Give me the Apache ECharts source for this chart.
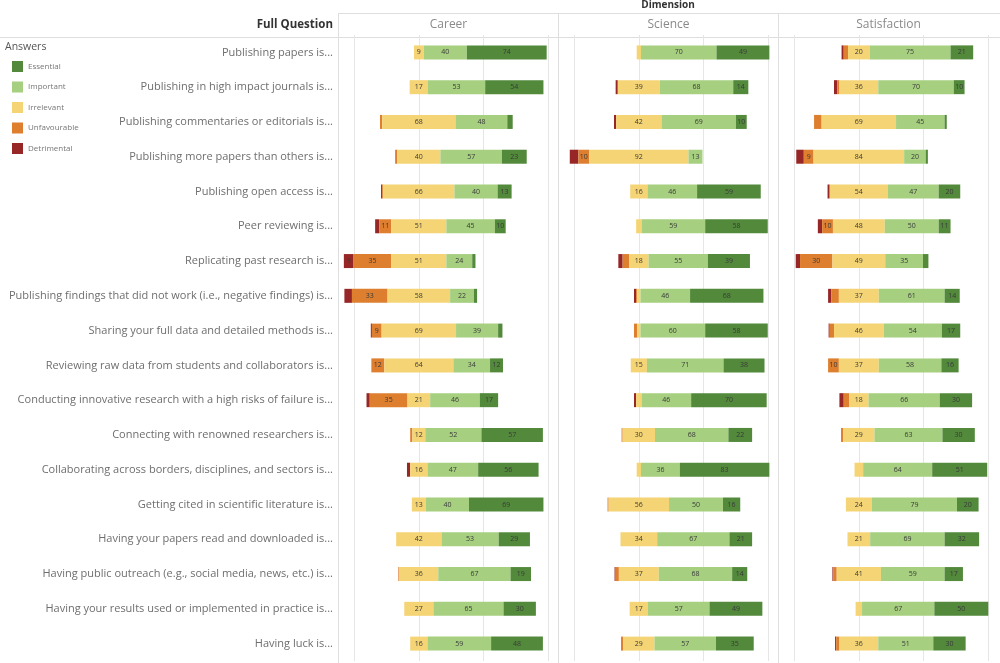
<!DOCTYPE html>
<html><head><meta charset="utf-8">
<script src="https://cdn.jsdelivr.net/npm/echarts@6/dist/echarts.min.js"></script>
<style>html,body{margin:0;padding:0;background:#fff}#c{width:1000px;height:663px}</style>
</head><body><div id="c"></div>
<script>
const questions = [
  'Publishing papers is...',
  'Publishing in high impact journals is...',
  'Publishing commentaries or editorials is...',
  'Publishing more papers than others is...',
  'Publishing open access is...',
  'Peer reviewing is...',
  'Replicating past research is...',
  'Publishing findings that did not work (i.e., negative findings) is...',
  'Sharing your full data and detailed methods is...',
  'Reviewing raw data from students and collaborators is...',
  'Conducting innovative research with a high risks of failure is...',
  'Connecting with renowned researchers is...',
  'Collaborating across borders, disciplines, and sectors is...',
  'Getting cited in scientific literature is...',
  'Having your papers read and downloaded is...',
  'Having public outreach (e.g., social media, news, etc.) is...',
  'Having your results used or implemented in practice is...',
  'Having luck is...'
];
const dimensions = ['Career', 'Science', 'Satisfaction'];
const answers = ['Essential', 'Important', 'Irrelevant', 'Unfavourable', 'Detrimental'];
const gridTicks = [-60, 0, 60, 120];

const careerDetrimental  = [0,0,0,0,1,4,9,7,1,0,3,0,3,0,0,0,0,0];
const careerUnfavourable = [0,0,2,2,1,11,35,33,9,12,35,2,0,0,0,1,0,0];
const careerIrrelevant   = [9,17,68,40,66,51,51,58,69,64,21,12,16,13,42,36,27,16];
const careerImportant    = [40,53,48,57,40,45,24,22,39,34,46,52,47,40,53,67,65,59];
const careerEssential    = [74,54,5,23,13,10,3,3,4,12,17,57,56,69,29,19,30,48];

const scienceDetrimental  = [0,2,2,8,0,0,4,2,0,0,2,0,0,0,0,1,0,0];
const scienceUnfavourable = [0,0,0,10,0,0,6,1,3,0,0,1,0,1,0,3,0,2];
const scienceIrrelevant   = [4,39,42,92,16,5,18,3,3,15,5,30,4,56,34,37,17,29];
const scienceImportant    = [70,68,69,13,46,59,55,46,60,71,46,68,36,50,67,68,57,57];
const scienceEssential    = [49,14,10,0,59,58,39,68,58,38,70,22,83,16,21,14,49,35];

const satisfactionDetrimental  = [2,3,0,7,2,4,4,3,1,0,4,0,0,0,0,1,0,1];
const satisfactionUnfavourable = [4,2,7,9,0,10,30,7,4,10,5,2,0,0,0,3,0,3];
const satisfactionIrrelevant   = [20,36,69,84,54,48,49,37,46,37,18,29,8,24,21,41,6,36];
const satisfactionImportant    = [75,70,45,20,47,50,35,61,54,58,66,63,64,79,69,59,67,51];
const satisfactionEssential    = [21,10,2,2,20,11,5,14,17,16,30,30,51,20,32,17,50,30];

const panels = [
  {det: careerDetrimental, unf: careerUnfavourable, irr: careerIrrelevant, imp: careerImportant, ess: careerEssential},
  {det: scienceDetrimental, unf: scienceUnfavourable, irr: scienceIrrelevant, imp: scienceImportant, ess: scienceEssential},
  {det: satisfactionDetrimental, unf: satisfactionUnfavourable, irr: satisfactionIrrelevant, imp: satisfactionImportant, ess: satisfactionEssential}
];

const colors = {
  Essential: '#52893b',
  Important: '#a6cf7f',
  Irrelevant: '#f4d474',
  Unfavourable: '#dd7f2f',
  Detrimental: '#972727'
};

const FONT = '"Open Sans", sans-serif';
const panelLefts = [339, 559, 779];
const panelWidth = 219;

const grids = [], xAxes = [], yAxes = [], series = [];
panels.forEach((p, gi) => {
  grids.push({left: panelLefts[gi], width: panelWidth, top: 35, height: 626});
  xAxes.push({type: 'value', gridIndex: gi, min: -74, max: 129, show: false, splitLine: {show: false}});
  yAxes.push({
    type: 'category', gridIndex: gi, data: questions, inverse: true,
    axisLine: {show: false}, axisTick: {show: false},
    axisLabel: gi === 0 ? {show: true, color: '#6e6e6e', fontSize: 11, fontFamily: FONT, margin: 6} : {show: false}
  });
  const stackName = 'stack' + gi;
  const base = questions.map((q, i) => -(p.det[i] + p.unf[i] + p.irr[i] / 2));
  series.push({
    name: 'base', type: 'bar', xAxisIndex: gi, yAxisIndex: gi, stack: stackName, stackStrategy: 'all',
    data: base, barWidth: 14, silent: true, itemStyle: {color: 'rgba(0,0,0,0)'},
    markLine: {
      silent: true, symbol: 'none', label: {show: false}, z: 0,
      lineStyle: {color: '#e6e6e6', width: 1, type: 'solid'},
      data: gridTicks.map(v => ({xAxis: v}))
    },
    z: 1
  });
  const segs = [['Detrimental', p.det], ['Unfavourable', p.unf], ['Irrelevant', p.irr], ['Important', p.imp], ['Essential', p.ess]];
  segs.forEach(([name, arr]) => {
    series.push({
      name: name, type: 'bar', xAxisIndex: gi, yAxisIndex: gi, stack: stackName, stackStrategy: 'all',
      data: arr, barWidth: 14, z: 3,
      itemStyle: {color: colors[name]},
      label: {
        show: true, position: 'inside', fontSize: 7, fontFamily: FONT, color: '#3a3a3a',
        formatter: v => (v.value >= 9 ? String(v.value) : '')
      }
    });
  });
});

const lineStyle = {stroke: '#dedede', lineWidth: 1};
const graphic = [
  {type: 'text', style: {x: 668, y: 5, text: 'Dimension', fill: '#333', font: 'bold 10px ' + FONT, textAlign: 'center', textVerticalAlign: 'middle'}},
  {type: 'text', style: {x: 333, y: 25, text: 'Full Question', fill: '#333', font: 'bold 11.5px ' + FONT, textAlign: 'right', textVerticalAlign: 'middle'}},
  {type: 'text', style: {x: 5, y: 47, text: 'Answers', fill: '#555', font: '10.5px ' + FONT, textAlign: 'left', textVerticalAlign: 'middle'}},
  {type: 'line', shape: {x1: 0, y1: 37.5, x2: 1000, y2: 37.5}, style: lineStyle},
  {type: 'line', shape: {x1: 338, y1: 13.5, x2: 1000, y2: 13.5}, style: lineStyle}
];
dimensions.forEach((d, i) => {
  graphic.push({type: 'text', style: {x: panelLefts[i] + panelWidth / 2, y: 25, text: d, fill: '#8a8a8a', font: '12px ' + FONT, textAlign: 'center', textVerticalAlign: 'middle'}});
  graphic.push({type: 'line', shape: {x1: panelLefts[i] - 0.5, y1: 13, x2: panelLefts[i] - 0.5, y2: 663}, style: lineStyle});
});

const chart = echarts.init(document.getElementById('c'), null, {renderer: 'canvas'});
chart.setOption({
  animation: false,
  textStyle: {fontFamily: FONT},
  legend: {
    data: answers, orient: 'vertical', left: 7, top: 56, itemWidth: 11, itemHeight: 11, itemGap: 9.5,
    icon: 'rect', selectedMode: false,
    textStyle: {fontSize: 8, color: '#777', fontFamily: FONT}
  },
  grid: grids, xAxis: xAxes, yAxis: yAxes, series: series, graphic: graphic
});
</script></body></html>
